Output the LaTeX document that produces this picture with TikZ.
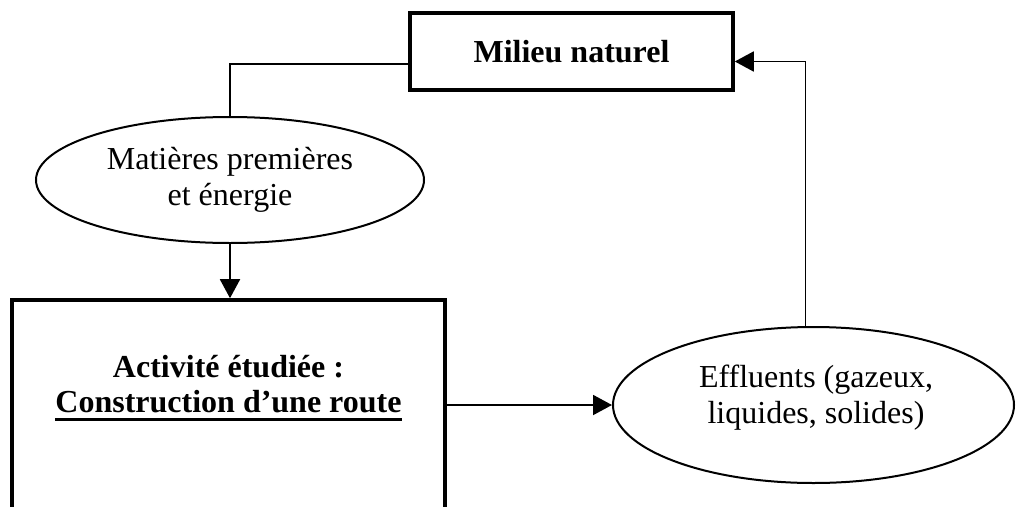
\documentclass[tikz,border=0pt]{standalone}
\usepackage{fontspec}
\setmainfont{Liberation Serif}
\usetikzlibrary{arrows.meta,shapes.geometric}
\newcommand\myul[1]{\setbox0\hbox{#1}\rlap{\rule[-8pt]{\wd0}{3pt}}\box0}
\tikzset{
  txt/.style={font=\fontsize{32}{36}\selectfont, align=center, inner sep=0pt},
  boldtxt/.style={txt, font=\fontsize{32}{35}\selectfont\bfseries},
  thickbox/.style={draw, line width=3.6pt, rectangle, inner sep=0pt},
  oval/.style={draw, ellipse, line width=2pt, inner sep=0pt},
  conn/.style={line width=1.9pt},
  arr/.style={conn, -{Triangle[length=19pt,width=20pt]}}
}
\begin{document}
\begin{tikzpicture}[x=1pt,y=-1pt]
\useasboundingbox (0,0) rectangle (1016,506);
\clip (0,0) rectangle (1016,506);
% Milieu naturel
\node[thickbox, minimum width=323pt, minimum height=77pt, boldtxt] (milieu) at (571.5,51.5) {Milieu naturel};
% ellipse 1
\node[oval, minimum width=388pt, minimum height=126pt, txt] (e1) at (230,180) {Matières premières\\et énergie};
% activity box
\node[thickbox, minimum width=433pt, minimum height=260pt] (box) at (228.5,430) {};
\node[boldtxt] (acttxt) at (228.5,388) {Activité étudiée :\\\myul{Construction d’une route}};
% ellipse 2
\node[oval, minimum width=401pt, minimum height=156pt] (e2) at (813.5,405) {};
\node[txt] (efftxt) at (816,398) {Effluents (gazeux,\\liquides, solides)};
% connectors
\draw[conn] ([yshift=-12.5pt]milieu.west) -| (e1.north);
\draw[arr] (e1.south) -- (e1.south |- box.north);
\draw[arr] (e2.west -| box.east) -- (e2.west);
\draw[arr] ([xshift=-8pt]e2.north) |- ([yshift=-10pt]milieu.east);
\end{tikzpicture}
\end{document}
